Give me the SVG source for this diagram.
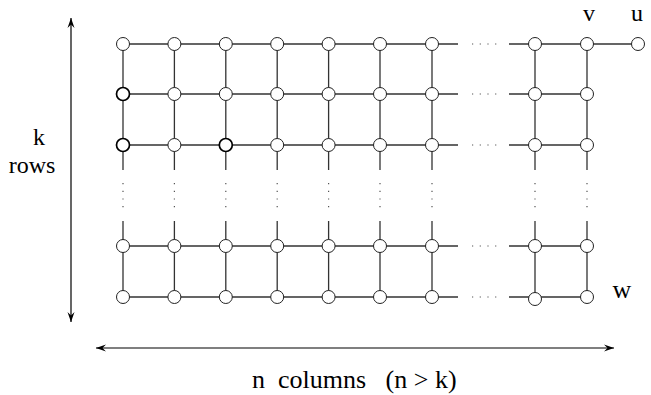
<svg xmlns="http://www.w3.org/2000/svg" width="651" height="395" viewBox="0 0 651 395">
<style>
.e{stroke:#333;stroke-width:1.3;fill:none}
.d{stroke:#555;stroke-width:1.2;fill:none;stroke-dasharray:1.2 6.5}
.n circle{fill:#fff;stroke:#222;stroke-width:1}
.b circle{stroke:#000;stroke-width:1.7}
.t{font-family:"Liberation Serif","Times New Roman",serif;font-size:26px;fill:#000}
.s{font-size:24px}
.a{stroke:#000;stroke-width:1.2;fill:none}
</style>
<defs>
<marker id="ah" viewBox="-11 -4 12 8" refX="0" refY="0" markerWidth="12" markerHeight="8" markerUnits="userSpaceOnUse" orient="auto-start-reverse">
<path d="M0,0 L-10,-3.5 L-6.5,0 L-10,3.5 Z" fill="#000"/>
</marker>
</defs>
<g id="connectors">
<path class="e" d="M123,44H458M509,44H638M123,94H458M509,94H587M123,145H458M509,145H587M123,246H458M509,246H587M123,297H458M509,297H587"/>
<path class="d" d="M472,44H497M472,94H497M472,145H497M472,246H497M472,297H497"/>
<path class="e" d="M123,44V170M123,221V297M174.4,44V170M174.4,221V297M225.8,44V170M225.8,221V297M277.2,44V170M277.2,221V297M328.6,44V170M328.6,221V297M380,44V170M380,221V297M432,44V170M432,221V297M535,44V170M535,221V297M587,44V170M587,221V297"/>
<path class="d" d="M123,183V208M174.4,183V208M225.8,183V208M277.2,183V208M328.6,183V208M380,183V208M432,183V208M535,183V208M587,183V208"/>
<line class="a" x1="71" y1="18" x2="71" y2="322" marker-start="url(#ah)" marker-end="url(#ah)"/>
<line class="a" x1="96" y1="348" x2="614" y2="348" marker-start="url(#ah)" marker-end="url(#ah)"/>
</g>
<g id="nodes">
<g id="n0-0" class="n"><circle cx="123" cy="44" r="6.5"/></g>
<g id="n0-1" class="n"><circle cx="174.4" cy="44" r="6.5"/></g>
<g id="n0-2" class="n"><circle cx="225.8" cy="44" r="6.5"/></g>
<g id="n0-3" class="n"><circle cx="277.2" cy="44" r="6.5"/></g>
<g id="n0-4" class="n"><circle cx="328.6" cy="44" r="6.5"/></g>
<g id="n0-5" class="n"><circle cx="380" cy="44" r="6.5"/></g>
<g id="n0-6" class="n"><circle cx="432" cy="44" r="6.5"/></g>
<g id="n0-7" class="n"><circle cx="535" cy="44" r="6.5"/></g>
<g id="v" class="n"><circle cx="587" cy="44" r="6.5"/></g>
<g id="u" class="n"><circle cx="638" cy="44" r="6.5"/></g>

<g id="n1-0" class="n b"><circle cx="123" cy="94" r="6.5"/></g>
<g id="n1-1" class="n"><circle cx="174.4" cy="94" r="6.5"/></g>
<g id="n1-2" class="n"><circle cx="225.8" cy="94" r="6.5"/></g>
<g id="n1-3" class="n"><circle cx="277.2" cy="94" r="6.5"/></g>
<g id="n1-4" class="n"><circle cx="328.6" cy="94" r="6.5"/></g>
<g id="n1-5" class="n"><circle cx="380" cy="94" r="6.5"/></g>
<g id="n1-6" class="n"><circle cx="432" cy="94" r="6.5"/></g>
<g id="n1-7" class="n"><circle cx="535" cy="94" r="6.5"/></g>
<g id="n1-8" class="n"><circle cx="587" cy="94" r="6.5"/></g>

<g id="n2-0" class="n b"><circle cx="123" cy="145" r="6.5"/></g>
<g id="n2-1" class="n"><circle cx="174.4" cy="145" r="6.5"/></g>
<g id="n2-2" class="n b"><circle cx="225.8" cy="145" r="6.5"/></g>
<g id="n2-3" class="n"><circle cx="277.2" cy="145" r="6.5"/></g>
<g id="n2-4" class="n"><circle cx="328.6" cy="145" r="6.5"/></g>
<g id="n2-5" class="n"><circle cx="380" cy="145" r="6.5"/></g>
<g id="n2-6" class="n"><circle cx="432" cy="145" r="6.5"/></g>
<g id="n2-7" class="n"><circle cx="535" cy="145" r="6.5"/></g>
<g id="n2-8" class="n"><circle cx="587" cy="145" r="6.5"/></g>

<g id="n3-0" class="n"><circle cx="123" cy="246" r="6.5"/></g>
<g id="n3-1" class="n"><circle cx="174.4" cy="246" r="6.5"/></g>
<g id="n3-2" class="n"><circle cx="225.8" cy="246" r="6.5"/></g>
<g id="n3-3" class="n"><circle cx="277.2" cy="246" r="6.5"/></g>
<g id="n3-4" class="n"><circle cx="328.6" cy="246" r="6.5"/></g>
<g id="n3-5" class="n"><circle cx="380" cy="246" r="6.5"/></g>
<g id="n3-6" class="n"><circle cx="432" cy="246" r="6.5"/></g>
<g id="n3-7" class="n"><circle cx="535" cy="246" r="6.5"/></g>
<g id="n3-8" class="n"><circle cx="587" cy="246" r="6.5"/></g>

<g id="n4-0" class="n"><circle cx="123" cy="297" r="6.5"/></g>
<g id="n4-1" class="n"><circle cx="174.4" cy="297" r="6.5"/></g>
<g id="n4-2" class="n"><circle cx="225.8" cy="297" r="6.5"/></g>
<g id="n4-3" class="n"><circle cx="277.2" cy="297" r="6.5"/></g>
<g id="n4-4" class="n"><circle cx="328.6" cy="297" r="6.5"/></g>
<g id="n4-5" class="n"><circle cx="380" cy="297" r="6.5"/></g>
<g id="n4-6" class="n"><circle cx="432" cy="297" r="6.5"/></g>
<g id="n4-7" class="n"><circle cx="535" cy="299" r="6.5"/></g>
<g id="w" class="n"><circle cx="587" cy="297" r="6.5"/></g>
</g>
<g id="labels">
<text class="t s" x="589" y="21" text-anchor="middle">v</text>
<text class="t s" x="637" y="21" text-anchor="middle">u</text>
<text class="t" x="622" y="298" text-anchor="middle">w</text>
<text class="t s" x="39" y="145" text-anchor="middle">k</text>
<text class="t s" x="32" y="173" text-anchor="middle">rows</text>
<text class="t" x="252" y="388" style="white-space:pre">n  columns   (n &gt; k)</text>
</g>
</svg>
